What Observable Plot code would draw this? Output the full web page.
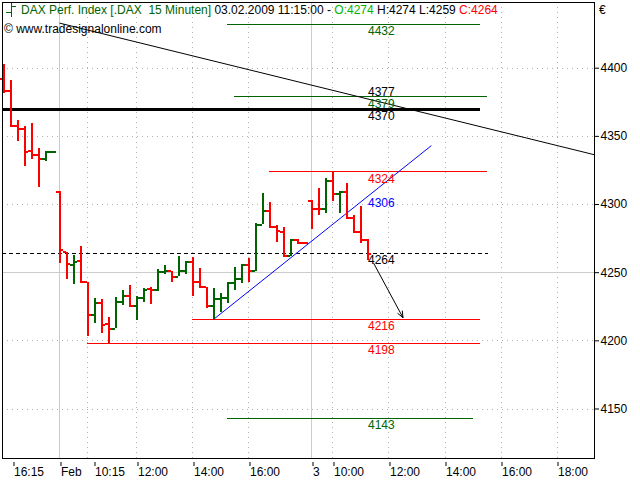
<!DOCTYPE html>
<html>
<head>
<meta charset="utf-8">
<script src="https://cdn.jsdelivr.net/npm/d3@7"></script>
<script src="https://cdn.jsdelivr.net/npm/@observablehq/plot@0.6"></script>
<style>
  body { margin: 0; background: #fff; }
  #wrap { position: relative; width: 640px; height: 480px; font-family: "Liberation Sans", Arial, sans-serif; font-size: 12px; color: #000; }
  .hdr { position: absolute; white-space: pre; line-height: 14px; }
</style>
</head>
<body>
<div id="wrap">
  <div id="chart"></div>
  <svg id="icon" width="14" height="16" style="position:absolute;left:4px;top:2px">
    <path d="M7.5 1V15M2 10.5H7.5M7.5 4.5H12" stroke="#006400" stroke-width="1" fill="none"/>
  </svg>
  <div class="hdr" id="title" style="left:21px;top:3px"></div>
  <div class="hdr" style="left:4px;top:22px">© www.tradesignalonline.com</div>
  <div class="hdr" style="left:599px;top:3px">€</div>
</div>
<script>
// DAX, 15-minute OHLC bars: 30.01.2009 16:15 to 03.02.2009 11:15 (bar index = position on the axis)
const open  = [4392.2, 4383.6, 4357.9, 4355.5, 4339.6, 4336.4, 4333.5, 4338.9,
               4309.3, 4265.0, 4255.7, 4258.4, 4243.0, 4219.1, 4227.6, 4212.5, 4209.0, 4228.8,
               4232.7, 4225.7, 4231.8, 4238.0, 4237.4, 4250.3, 4251.0, 4247.2, 4251.6, 4257.7,
               4243.5, 4239.3, 4225.9, 4230.8, 4231.2, 4242.2, 4245.5, 4255.7, 4251.5, 4285.3,
               4295.1, 4283.3, 4279.7, 4262.6, 4274.0, 4272.0,
               4302.9, 4296.8, 4296.5, 4317.1, 4307.8, 4309.0, 4289.9, 4279.7, 4274];
const high  = [4402.7, 4390.9, 4361.6, 4357.2, 4359.6, 4340.8, 4338.9, 4338.9,
               4309.3, 4265.0, 4262.6, 4269.2, 4243.0, 4230.8, 4230.1, 4216.9, 4232.0, 4236.9,
               4240.6, 4232.7, 4238.6, 4239.0, 4252.0, 4255.2, 4251.0, 4261.8, 4258.2, 4260.9,
               4252.8, 4239.3, 4238.6, 4234.5, 4243.0, 4254.0, 4256.0, 4260.1, 4285.8, 4307.8,
               4301.7, 4284.6, 4283.3, 4274.1, 4274.1, 4272.3,
               4302.9, 4311.5, 4318.8, 4324.0, 4309.0, 4315.2, 4291.9, 4298.5, 4274];
const low   = [4381.6, 4357.9, 4346.4, 4328.1, 4332.8, 4312.7, 4331.5, 4338.9,
               4256.5, 4245.0, 4241.3, 4243.0, 4203.2, 4212.9, 4205.6, 4198.0, 4209.0, 4225.9,
               4225.4, 4215.1, 4228.3, 4226.8, 4236.5, 4248.6, 4243.0, 4247.2, 4248.6, 4232.7,
               4239.3, 4223.5, 4216.0, 4221.0, 4227.6, 4236.9, 4242.2, 4243.0, 4251.0, 4285.3,
               4283.3, 4272.3, 4262.6, 4261.8, 4271.5, 4271.5,
               4281.6, 4291.9, 4293.2, 4302.4, 4293.6, 4289.5, 4279.7, 4271.2, 4259];
const close = [4383.6, 4357.9, 4355.5, 4338.9, 4336.4, 4333.5, 4338.9, 4338.9,
               4266.7, 4256.5, 4257.7, 4243.0, 4219.1, 4227.6, 4211.7, 4209.0, 4228.8, 4232.7,
               4225.7, 4231.8, 4237.6, 4237.4, 4250.3, 4251.0, 4247.2, 4251.6, 4257.7, 4243.5,
               4239.3, 4225.9, 4230.8, 4231.2, 4242.2, 4245.5, 4255.7, 4251.5, 4285.3, 4295.1,
               4283.3, 4280.9, 4262.6, 4274.1, 4272.0, 4271.8,
               4296.8, 4296.5, 4317.1, 4307.8, 4309.0, 4289.9, 4279.7, 4274.0, 4264];

// time axis: bar index of each labelled tick
const tickIdx    = [0, 8, 12, 19, 27, 35, 44, 47, 55, 63, 71, 79];
const tickLabels = ["16:15", "Feb", "10:15", "12:00", "14:00", "16:00", "3", "10:00", "12:00", "14:00", "16:00", "18:00"];
const dayStarts  = [8, 44];
const priceTicks = [4150, 4200, 4250, 4300, 4350, 4400];

// horizontal levels drawn on the chart (bar index range they span)
const levelValues = [4432, 4379, 4370, 4324, 4264, 4216, 4198, 4143];
const levelFrom   = [32, 33, null, 38, null, 27, 12, 32];
const levelTo     = [68, 69, 68.1, 69, 69.2, 68, 68, 67];
const levelKinds  = ["target", "target", "pivot", "swing", "last", "swing", "swing", "target"];

// trend lines (two anchor points each) and their values at the last bar
const resistLine = [{i: 8, v: 4433.0}, {i: 84.36, v: 4336.5}];
const supportLine = [{i: 30, v: 4216}, {i: 61, v: 4343}];
const resistAtLast = 4377;
const supportAtLast = 4306;

// projected move
const projection = {i1: 52.8, v1: 4257, i2: 57, v2: 4217};

const symbol = "DAX Perf. Index [.DAX  15 Minuten]";
const lastTime = "03.02.2009 11:15:00";

const RED = "#ff0000", GREEN = "#006400", BLUE = "#0000ff", GRID = "#b0b0b0";
const kindColor = {target: GREEN, pivot: "#000", swing: RED, last: "#000"};
const crisp = {shapeRendering: "crispEdges"};

const xMin = -0.214, xMax = 84.357;
const lastIdx = open.length - 1;

const bars = open.map((o, i) => ({i, o, h: high[i], l: low[i], c: close[i], up: close[i] >= o}));
const upBars = bars.filter(d => d.up);
const downBars = bars.filter(d => !d.up);

const levels = levelValues.map((v, k) => ({
  v, from: levelFrom[k] ?? xMin, to: levelTo[k], kind: levelKinds[k]
}));
const ofKind = k => levels.filter(d => d.kind === k);
const labels = levels.map(d => ({v: d.v, color: kindColor[d.kind]}))
  .concat([{v: supportAtLast, color: BLUE}]);

// OHLC bar: high-low rule, open tick to the left, close tick to the right
const ohlc = (data, color) => [
  Plot.ruleX(data, {x: "i", y1: "l", y2: "h", stroke: color, strokeWidth: 2, ...crisp}),
  Plot.ruleY(data, {y: "o", x1: d => d.i - 0.5, x2: "i", stroke: color, strokeWidth: 2, ...crisp}),
  Plot.ruleY(data, {y: "c", x1: "i", x2: d => d.i + 0.5, stroke: color, strokeWidth: 2, ...crisp})
];

const tickLabel = i => tickLabels[tickIdx.indexOf(i)];
const axisXOpts = {anchor: "bottom", tickSize: 4, tickPadding: 1, dy: 4, textAnchor: "start", tickFormat: tickLabel, fontSize: 12, label: null};

const chart = Plot.plot({
  width: 640,
  height: 480,
  marginLeft: 2,
  marginRight: 46,
  marginTop: 2,
  marginBottom: 22,
  style: {fontFamily: '"Liberation Sans", Arial, sans-serif', fontSize: "12px", color: "#000", background: "#fff"},
  x: {domain: [xMin, xMax], axis: null},
  y: {domain: [4113.7, 4448.2], axis: null},
  marks: [
    // grid
    Plot.ruleY(priceTicks.filter(v => v !== 4250), {stroke: GRID, strokeDasharray: "1,4", ...crisp}),
    Plot.ruleX(tickIdx.filter(i => i > 0 && !dayStarts.includes(i)), {stroke: GRID, strokeDasharray: "1,4", ...crisp}),
    Plot.ruleY([4250], {stroke: "#cccccc", ...crisp}),
    Plot.ruleX(dayStarts, {stroke: "#cccccc", ...crisp}),

    // levels
    Plot.ruleY(ofKind("target"), {y: "v", x1: "from", x2: "to", stroke: GREEN, strokeWidth: 1, ...crisp}),
    Plot.ruleY(ofKind("swing"), {y: "v", x1: "from", x2: "to", stroke: RED, strokeWidth: 1, ...crisp}),
    Plot.ruleY(ofKind("pivot"), {y: "v", x1: "from", x2: "to", stroke: "#000", strokeWidth: 3, ...crisp}),
    Plot.ruleY(ofKind("last"), {y: "v", x1: "from", x2: "to", stroke: "#000", strokeWidth: 1, strokeDasharray: "4,3", ...crisp}),

    // trend lines
    Plot.line(resistLine, {x: "i", y: "v", stroke: "#000", strokeWidth: 1}),
    Plot.line(supportLine, {x: "i", y: "v", stroke: BLUE, strokeWidth: 1}),

    // OHLC bars
    ...ohlc(upBars, GREEN),
    ...ohlc(downBars, RED),

    // projection arrow
    Plot.arrow([projection], {x1: "i1", y1: "v1", x2: "i2", y2: "v2", stroke: "#000", strokeWidth: 1, headLength: 10, headAngle: 45}),

    // level labels at the last bar
    Plot.text(labels, {x: lastIdx, y: "v", text: d => String(d.v), fill: d => d.color, textAnchor: "start", dy: 7, fontSize: 12}),
    Plot.text([resistAtLast], {x: lastIdx, y: d => d, text: d => String(d), fill: "#000", textAnchor: "start", dy: -7, fontSize: 12}),

    Plot.frame({stroke: "#000", ...crisp}),

    // axes
    Plot.axisY(priceTicks, {anchor: "right", tickSize: 4, tickPadding: 2, fontSize: 12, label: null, tickFormat: d => String(d)}),
    Plot.axisX(tickIdx.filter(i => i !== 0 && i !== 12), {...axisXOpts, dx: 1}),
    Plot.axisX([0], {...axisXOpts, dx: 10}),
    Plot.axisX([12], {...axisXOpts, dx: 7})
  ]
});
document.getElementById("chart").appendChild(chart);

const last = bars[lastIdx];
const fmt = v => String(Math.round(v));
document.getElementById("title").innerHTML =
  `<span style="color:#006400">${symbol}</span> ${lastTime} - ` +
  `<span style="color:#00b400">O:${fmt(last.o)}</span> H:${fmt(last.h)} L:${fmt(last.l)} ` +
  `<span style="color:#ff0000">C:${fmt(last.c)}</span>`;
</script>
</body>
</html>
